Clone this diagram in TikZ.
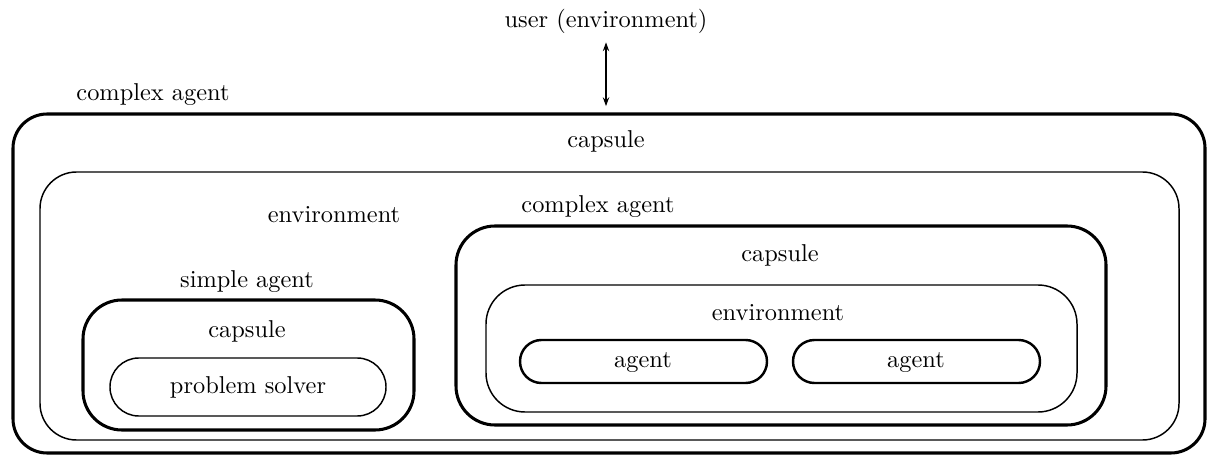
\documentclass[tikz,border=0pt]{standalone}
\usetikzlibrary{arrows.meta,fit}
\begin{document}
\begin{tikzpicture}[x=0.41pt,y=-0.41pt,
  heavybox/.style={draw,line width=1.25pt,inner sep=0pt,rounded corners=#1},
  lightbox/.style={draw,line width=0.6pt,inner sep=0pt,rounded corners=#1},
  agentbox/.style={draw,line width=1.0pt,inner sep=0pt,rounded corners=#1},
  lbl/.style={anchor=base,inner sep=0pt,font=\fontsize{10}{12}\selectfont},
  arr/.style={line width=0.55pt,{Stealth[length=3.6pt,width=2.6pt]}-{Stealth[length=3.6pt,width=2.6pt]}}]
\useasboundingbox (0,0) rectangle (1209,457);
% boxes
\node[heavybox=14pt,fit={(13,114) (1205,453)}] (outer) {};
\node[lightbox=15pt,fit={(40,172) (1179,440)}] (env) {};
\node[heavybox=16pt,fit={(456,226) (1106,425)}] (cagent) {};
\node[lightbox=16pt,fit={(486,285) (1077,412)}] (cenv) {};
\node[agentbox=8.8pt,fit={(520,340) (767,383)}] (agentA) {};
\node[agentbox=8.8pt,fit={(793,340) (1040,383)}] (agentB) {};
\node[heavybox=16pt,fit={(83,300) (414,430)}] (sagent) {};
\node[lightbox=11.8pt,fit={(110,358) (386,416)}] (solver) {};
% labels
\node[lbl] (user) at (606,28) {user (environment)};
\node[lbl] (lcomplex) at (153,101) {complex agent};
\node[lbl] (lcaps) at (606,148) {capsule};
\node[lbl] (lenv) at (334,223) {environment};
\node[lbl] (lcomplex2) at (598,213) {complex agent};
\node[lbl] (lcaps2) at (780,262) {capsule};
\node[lbl] (lenv2) at (778,320) {environment};
\node[lbl] (la) at (643,367) {agent};
\node[lbl] (lb) at (916,367) {agent};
\node[lbl] (lsimple) at (247,287) {simple agent};
\node[lbl] (lcaps3) at (247,337) {capsule};
\node[lbl] (lsolver) at (248,393) {problem solver};
% connector
\draw[arr,shorten <=3.2pt,shorten >=2.6pt] (user.south) -- (user.south |- outer.north);
\end{tikzpicture}
\end{document}
